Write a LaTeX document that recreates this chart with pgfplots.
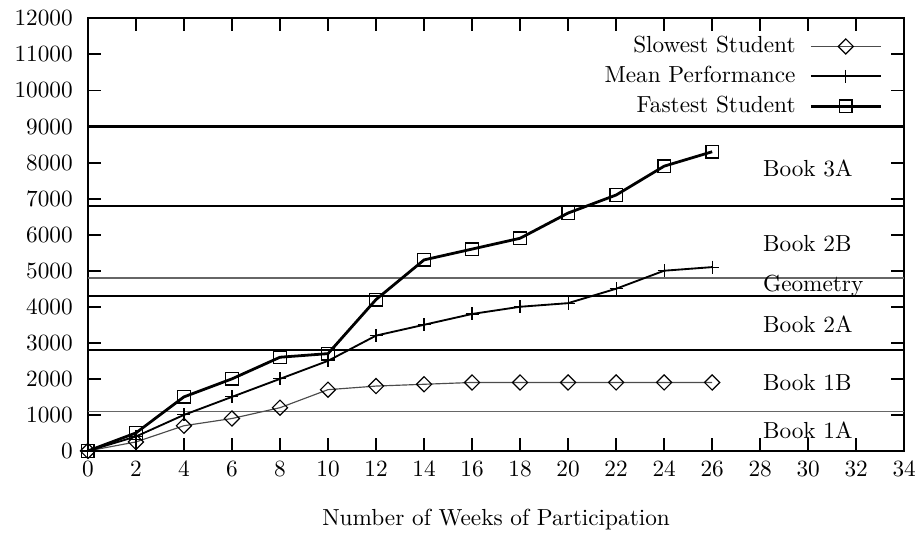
\documentclass[border=0pt]{standalone}
\usepackage{pgfplots}
\pgfplotsset{compat=1.18}
\begin{document}
\begin{tikzpicture}
\begin{axis}[
  scale only axis,
  width=351pt, height=186pt,
  xmin=0, xmax=34, ymin=0, ymax=12000,
  xtick={0,2,...,34}, ytick={0,1000,...,12000},
  scaled ticks=false,
  /pgf/number format/set thousands separator={},
  tick align=inside,
  major tick length=5.6pt,
  every tick/.style={black, line width=0.8pt},
  axis line style={line width=0.8pt},
  yticklabel style={xshift=-3pt},
  xticklabel style={yshift=-1pt},
  xlabel={Number of Weeks of Participation},
  xlabel style={at={(axis description cs:0.5,0)}, anchor=center, yshift=-29.5pt},
  legend plot pos=right,
  legend cell align=right,
  legend style={draw=none, fill=none, at={(axis description cs:0.982,0.978)}, anchor=north east,
    row sep=1.3pt, nodes={inner sep=1.5pt},
    /tikz/every odd column/.append style={column sep=4.5pt}},
  legend image code/.code={\draw[mark repeat=2,mark phase=2] plot coordinates {(0pt,0pt)(15pt,0pt)(30pt,0pt)};},
]
% level boundary lines
\addplot[forget plot, black, line width=0.9pt] coordinates {(0,9000) (34,9000)};
\addplot[forget plot, black, line width=0.9pt] coordinates {(0,6800) (34,6800)};
\addplot[forget plot, black!60, line width=0.6pt] coordinates {(0,4800) (34,4800)};
\addplot[forget plot, black, line width=0.9pt] coordinates {(0,4300) (34,4300)};
\addplot[forget plot, black, line width=0.9pt] coordinates {(0,2800) (34,2800)};
\addplot[forget plot, black!60, line width=0.6pt] coordinates {(0,1100) (34,1100)};

\addplot[black!70, line width=0.5pt, mark=square, mark size=2.3pt, mark options={black, line width=0.5pt, rotate=45}]
coordinates {(0,0) (2,250) (4,700) (6,900) (8,1200) (10,1700) (12,1800) (14,1850) (16,1900) (18,1900) (20,1900) (22,1900) (24,1900) (26,1900)};
\addlegendentry{Slowest Student}

\addplot[black, line width=0.8pt, mark=+, mark size=2.8pt, mark options={black, line width=0.5pt}]
coordinates {(0,0) (2,400) (4,1000) (6,1500) (8,2000) (10,2500) (12,3200) (14,3500) (16,3800) (18,4000) (20,4100) (22,4500) (24,5000) (26,5100)};
\addlegendentry{Mean Performance}

\addplot[black, line width=1.2pt, mark=square, mark size=2.7pt, mark options={black, line width=0.6pt}]
coordinates {(0,0) (2,500) (4,1500) (6,2000) (8,2600) (10,2700) (12,4200) (14,5300) (16,5600) (18,5900) (20,6600) (22,7100) (24,7900) (26,8300)};
\addlegendentry{Fastest Student}

\node[anchor=base west, inner sep=0pt] at (axis cs:28.1,7610) {Book 3A};
\node[anchor=base west, inner sep=0pt] at (axis cs:28.1,5530) {Book 2B};
\node[anchor=base west, inner sep=0pt] at (axis cs:28.1,4420) {Geometry};
\node[anchor=base west, inner sep=0pt] at (axis cs:28.1,3290) {Book 2A};
\node[anchor=base west, inner sep=0pt] at (axis cs:28.1,1680) {Book 1B};
\node[anchor=base west, inner sep=0pt] at (axis cs:28.1,350) {Book 1A};
\end{axis}
\pgfresetboundingbox
\path (-37.8pt,-37.4pt) rectangle (359.5pt,193.9pt);
\end{tikzpicture}
\end{document}
